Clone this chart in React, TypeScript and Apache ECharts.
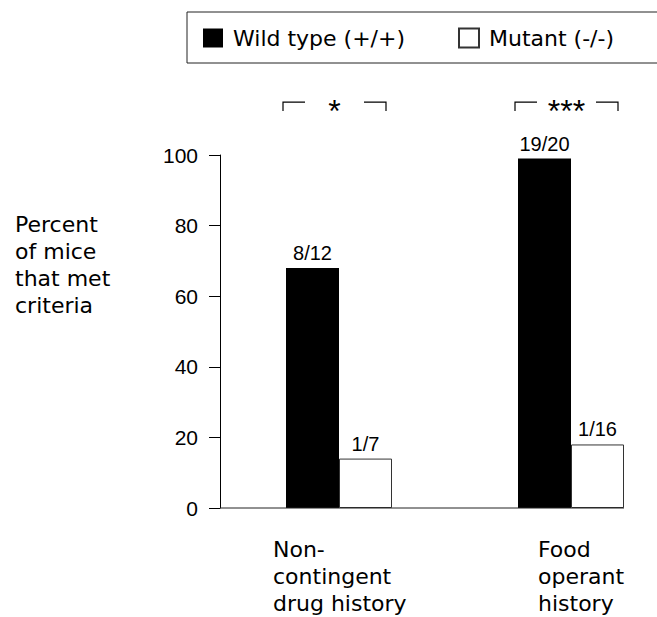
import React, { useEffect, useRef } from "react";
import * as echarts from "echarts";

const categories = ["Non-\ncontingent\ndrug history", "Food\noperant\nhistory"];
const wildValues = [68, 99];
const mutantValues = [14, 18];
const wildFractions = ["8/12", "19/20"];
const mutantFractions = ["1/7", "1/16"];
const significance = ["*", "***"];
const seriesNames = ["Wild type (+/+)", "Mutant (-/-)"];
const yTitle = "Percent\nof mice\nthat met\ncriteria";

const BAR_WIDTH = 53;
const BRACKET_LEVEL = 115;
const Y_OFFSET = 119;
const WORD_FONT = "DejaVu Sans";
const NUM_FONT = "Liberation Sans";

export default function App() {
  const ref = useRef<HTMLDivElement>(null);
  useEffect(() => {
    if (!ref.current) return;
    const chart = echarts.init(ref.current, undefined, { renderer: "svg" });
    const option: any = {
      animation: false,
      backgroundColor: "#fff",
      title: {
        text: yTitle,
        left: 15,
        top: 211,
        padding: 0,
        textStyle: {
          fontFamily: WORD_FONT,
          fontSize: 22,
          lineHeight: 27,
          fontWeight: "normal",
          color: "#000",
        },
      },
      graphic: [
        {
          type: "rect",
          shape: { x: 187, y: 12, width: 520, height: 51 },
          style: { fill: "none", stroke: "#222", lineWidth: 1 },
          silent: true,
        },
      ],
      legend: [
        {
          data: [seriesNames[0]],
          left: 203,
          top: 27,
          padding: 0,
          itemWidth: 20,
          itemHeight: 19,
          icon: "rect",
          textStyle: {
            fontFamily: WORD_FONT,
            fontSize: 22,
            lineHeight: 22,
            color: "#000",
            padding: [0, 0, 0, 5],
          },
        },
        {
          data: [seriesNames[1]],
          left: 458,
          top: 27,
          padding: 0,
          itemWidth: 20,
          itemHeight: 19,
          icon: "rect",
          textStyle: {
            fontFamily: WORD_FONT,
            fontSize: 22,
            lineHeight: 22,
            color: "#000",
            padding: [0, 0, 0, 5],
          },
        },
      ],
      grid: { left: 339, top: 155, width: 232, height: 353, containLabel: false },
      xAxis: {
        type: "category",
        data: categories,
        boundaryGap: false,
        axisLine: { show: false },
        axisTick: { show: false },
        axisLabel: {
          interval: 0,
          margin: 28,
          formatter: (v: string, i: number) =>
            v
              .split("\n")
              .map((line) => `{g${i}|${line}}`)
              .join("\n"),
          rich: {
            g0: {
              width: 132,
              align: "left",
              fontFamily: WORD_FONT,
              fontSize: 22,
              lineHeight: 27,
              color: "#000",
            },
            g1: {
              width: 66,
              align: "left",
              fontFamily: WORD_FONT,
              fontSize: 22,
              lineHeight: 27,
              color: "#000",
            },
          },
        },
      },
      yAxis: {
        type: "value",
        min: 0,
        max: 100,
        interval: 20,
        offset: Y_OFFSET,
        axisLine: { show: true, lineStyle: { color: "#000", width: 1 } },
        axisTick: { show: true, length: 11, lineStyle: { color: "#000", width: 1 } },
        splitLine: { show: false },
        axisLabel: {
          margin: 22,
          fontFamily: NUM_FONT,
          fontSize: 21,
          color: "#000",
        },
      },
      series: [
        {
          name: seriesNames[0],
          type: "bar",
          data: wildValues,
          barWidth: BAR_WIDTH,
          barGap: "0%",
          itemStyle: { color: "#000" },
          label: {
            show: true,
            position: "top",
            distance: 5,
            fontFamily: NUM_FONT,
            fontSize: 20,
            color: "#000",
            formatter: (p: any) => wildFractions[p.dataIndex],
          },
          z: 3,
        },
        {
          name: seriesNames[1],
          type: "bar",
          data: mutantValues,
          barWidth: BAR_WIDTH,
          barGap: "0%",
          itemStyle: { color: "#fff", borderColor: "#333", borderWidth: 1 },
          label: {
            show: true,
            position: "top",
            distance: 5,
            fontFamily: NUM_FONT,
            fontSize: 20,
            color: "#000",
            formatter: (p: any) => mutantFractions[p.dataIndex],
          },
          z: 3,
        },
        {
          type: "custom",
          clip: false,
          silent: true,
          data: significance.map((_, i) => [i]),
          renderItem: (params: any, api: any) => {
            const idx = api.value(0);
            const c = api.coord([idx, BRACKET_LEVEL]);
            const x = c[0];
            const y = c[1];
            const L = x - 56;
            const R = x + 47;
            const seg = 22;
            const drop = 9;
            return {
              type: "group",
              children: [
                {
                  type: "polyline",
                  shape: { points: [[L, y + drop], [L, y], [L + seg, y]] },
                  style: { stroke: "#000", lineWidth: 1.2, fill: "none" },
                },
                {
                  type: "polyline",
                  shape: { points: [[R - seg, y], [R, y], [R, y + drop]] },
                  style: { stroke: "#000", lineWidth: 1.2, fill: "none" },
                },
                {
                  type: "text",
                  style: {
                    text: significance[params.dataIndex],
                    x: (L + R) / 2,
                    y: y + 9,
                    align: "center",
                    verticalAlign: "middle",
                    fontFamily: NUM_FONT,
                    fontSize: 32,
                    fill: "#000",
                  },
                },
              ],
            };
          },
          z: 4,
        },
        {
          type: "custom",
          clip: false,
          silent: true,
          data: [[0]],
          renderItem: (params: any, api: any) => {
            const first = api.coord([0, 0]);
            const last = api.coord([categories.length - 1, 0]);
            const x0 = first[0] - Y_OFFSET;
            const x1 = last[0] + BAR_WIDTH;
            return {
              type: "line",
              shape: { x1: x0, y1: first[1], x2: x1, y2: first[1] },
              style: { stroke: "#222", lineWidth: 1 },
            };
          },
          z: 5,
        },
      ],
    };
    chart.setOption(option);
    return () => chart.dispose();
  }, []);
  return (
    <div
      ref={ref}
      style={{ position: "fixed", left: 0, top: 0, width: 657, height: 617, background: "#fff" }}
    />
  );
}
